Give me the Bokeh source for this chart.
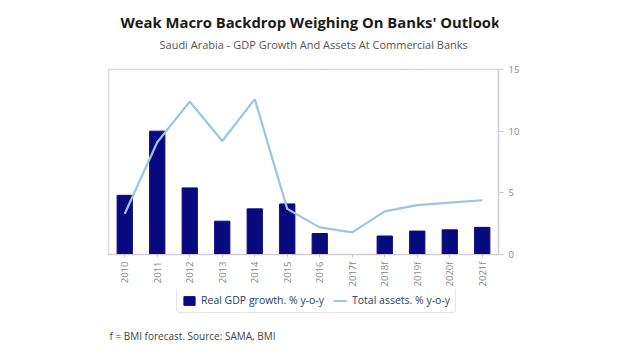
import math
import numpy as np
from bokeh.plotting import figure
from bokeh.layouts import column
from bokeh.models import (ColumnDataSource, LinearAxis, Range1d, FixedTicker, Legend,
                          LegendItem, Label)
from bokeh.embed import file_html
from bokeh.resources import INLINE

years = ["2010", "2011", "2012", "2013", "2014", "2015", "2016", "2017f",
         "2018f", "2019f", "2020f", "2021f"]
gdp_growth = [4.8, 10.0, 5.4, 2.7, 3.7, 4.1, 1.7, 0.0, 1.5, 1.9, 2.0, 2.2]
total_assets = [3.3, 9.1, 12.4, 9.2, 12.6, 3.7, 2.2, 1.8, 3.5, 4.0, 4.2, 4.4]
y_ticks = [0, 5, 10, 15]

title_text = "Weak Macro Backdrop Weighing On Banks' Outlook"
subtitle_text = "Saudi Arabia - GDP Growth And Assets At Commercial Banks"
footer_text = "f = BMI forecast. Source: SAMA, BMI"
gdp_label = "Real GDP growth. % y-o-y"
assets_label = "Total assets. % y-o-y"

FONT = "Open Sans"
BAR_COLOR = "#0a0a80"
LINE_COLOR = "#9cc5e0"
LEFT, RIGHT = 108, 122

src = ColumnDataSource(dict(x=years, gdp=gdp_growth, assets=total_assets))


def blank(height):
    f = figure(width=620, height=height, x_range=Range1d(LEFT, 620 - RIGHT),
               y_range=Range1d(height, 0), output_backend="svg", toolbar_location=None,
               min_border_left=LEFT, min_border_right=RIGHT, min_border_top=0,
               min_border_bottom=0, x_axis_location=None, y_axis_location=None)
    f.outline_line_color = None
    f.xgrid.visible = False
    f.ygrid.visible = False
    f.background_fill_color = "white"
    f.border_fill_color = "white"
    return f


# ---- top: titles ----
top = blank(60)
top.add_layout(Label(x=120, y=21, text=title_text, text_font=FONT, text_font_size="14.8px",
                     text_font_style="bold", text_color="#1a1a1a", text_baseline="middle"))
top.add_layout(Label(x=159, y=44, text=subtitle_text, text_font=FONT, text_font_size="11px",
                     text_color="#555555", text_baseline="middle"))

# ---- main chart ----
p = figure(width=620, height=229, x_range=years, y_range=Range1d(0, 15),
           output_backend="svg", toolbar_location=None,
           min_border_left=LEFT, min_border_right=RIGHT, min_border_top=9,
           min_border_bottom=34, y_axis_location=None)
p.background_fill_color = "white"
p.border_fill_color = "white"
p.outline_line_color = "#d9d9d9"
p.outline_line_width = 1.5
p.xgrid.visible = False
p.ygrid.visible = False

p.vbar(x="x", top="gdp", width=0.47, source=src, fill_color=BAR_COLOR, line_color=BAR_COLOR)
p.line(x="x", y="assets", source=src, line_color=LINE_COLOR, line_width=2.2)

ax = LinearAxis(ticker=FixedTicker(ticks=y_ticks))
ax.axis_line_color = "#cccccc"
ax.major_tick_line_color = "#cccccc"
ax.minor_tick_line_color = None
ax.major_tick_out = 5
ax.major_tick_in = 0
ax.major_label_text_font = FONT
ax.major_label_text_font_size = "9.5px"
ax.major_label_text_color = "#888888"
p.add_layout(ax, "right")

xa = p.xaxis[0]
xa.axis_line_color = "#cccccc"
xa.major_tick_line_color = "#cccccc"
xa.major_tick_out = 3
xa.major_tick_in = 0
xa.major_label_orientation = math.pi / 2
xa.major_label_text_font = FONT
xa.major_label_text_font_size = "9.5px"
xa.major_label_text_color = "#888888"
xa.major_label_standoff = 4

# ---- bottom: legend and footer ----
bot = blank(66)
legend_src = ColumnDataSource(dict(x=[np.nan], y=[np.nan]))
r_bar = bot.vbar(x="x", top="y", width=1, source=legend_src,
                 fill_color=BAR_COLOR, line_color=BAR_COLOR)
r_line = bot.line(x="x", y="y", source=legend_src, line_color=LINE_COLOR, line_width=2)
legend = Legend(items=[LegendItem(label=gdp_label, renderers=[r_bar]),
                       LegendItem(label=assets_label, renderers=[r_line])],
                orientation="horizontal", location=(68, 42))
legend.label_text_font = FONT
legend.label_text_font_size = "10.5px"
legend.label_text_color = "#2a3a6a"
legend.border_line_color = "#cccccc"
legend.border_line_width = 1
legend.border_radius = 4
legend.padding = 5
legend.spacing = 9
legend.margin = 0
legend.glyph_width = 14
legend.glyph_height = 11
legend.label_standoff = 5
legend.label_height = 13
bot.add_layout(legend, "center")
bot.add_layout(Label(x=109, y=46, text=footer_text, text_font=FONT, text_font_size="10px",
                     text_color="#444444", text_baseline="middle"))

layout = column(top, p, bot, spacing=0)
open("out.html", "w").write(file_html(layout, INLINE))
